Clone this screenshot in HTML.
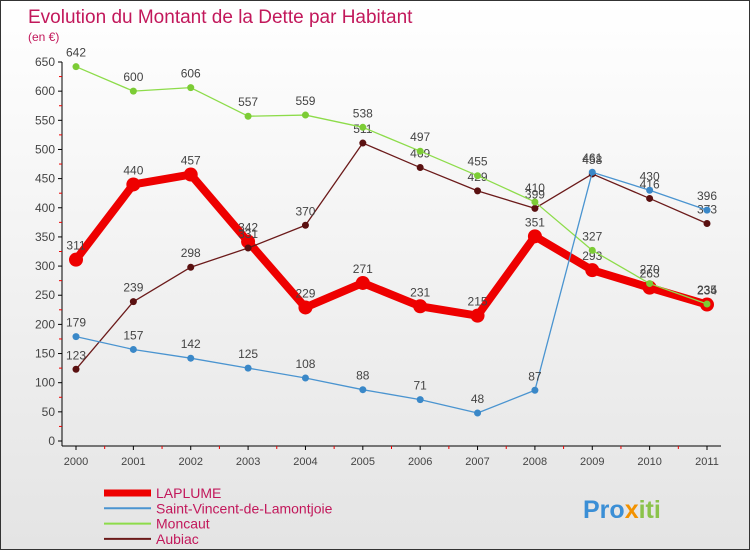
<!DOCTYPE html>
<html><head><meta charset="utf-8"><style>
body{margin:0;}
#c{width:748px;height:548px;border:1px solid #333;background:linear-gradient(#fff,#e4e4e4);position:relative;font-family:"Liberation Sans",sans-serif;}
</style></head><body>
<div id="c">
<svg id="s" width="748" height="548" xmlns="http://www.w3.org/2000/svg">
<text x="27" y="22" font-size="19" fill="#c2185b">Evolution du Montant de la Dette par Habitant</text>
<text x="27" y="40" font-size="12" fill="#c2185b">(en €)</text>
<g id="ax"></g><g id="ser"></g><g id="leg"></g>
<text x="582" y="517" font-size="25" font-weight="bold" fill="#3b8fd6">Pro<tspan fill="#f39200">x</tspan><tspan fill="#8bc34a">iti</tspan></text>
</svg></div>
<script>
const years=[2000,2001,2002,2003,2004,2005,2006,2007,2008,2009,2010,2011];
const laplume=[311,440,457,342,229,271,231,215,351,293,263,234];
const stVincent=[179,157,142,125,108,88,71,48,87,461,430,396];
const moncaut=[642,600,606,557,559,538,497,455,410,327,270,235];
const aubiac=[123,239,298,331,370,511,469,429,399,458,416,373];
const yTicks=[0,50,100,150,200,250,300,350,400,450,500,550,600,650];
const NS="http://www.w3.org/2000/svg";
const X=i=>75+i*(706-75)/11, Y=v=>440-v*(440-61)/650;
function mk(t,a,p){const e=document.createElementNS(NS,t);for(const k in a)e.setAttribute(k,a[k]);p.appendChild(e);return e;}
const ax=document.getElementById('ax');
let l=mk('line',{x1:61,y1:Y(650),x2:61,y2:445,stroke:'#000'},ax);


yTicks.forEach(v=>{mk('line',{x1:57,x2:61,y1:Y(v),y2:Y(v),stroke:'#000'},ax);
 if(v<650)mk('line',{x1:58,x2:61,y1:Y(v+25),y2:Y(v+25),stroke:'#e00'},ax);
 const t=mk('text',{x:54,y:Y(v)+4,'text-anchor':'end','font-size':12,fill:'#444'},ax);t.textContent=v;
 
 });
l=mk('line',{x1:61,y1:445,x2:720,y2:445,stroke:'#000'},ax);


years.forEach((y,i)=>{mk('line',{x1:X(i),x2:X(i),y1:445,y2:449,stroke:'#000'},ax);
 if(i<11)mk('line',{x1:X(i+.5),x2:X(i+.5),y1:445,y2:448,stroke:'#e00'},ax);
 const t=mk('text',{x:X(i),y:464,'text-anchor':'middle','font-size':11,fill:'#444'},ax);t.textContent=y;
 
 });
const ser=document.getElementById('ser');
const S=[[laplume,'#ee0000',8,7,'laplume-line'],[aubiac,'#6b1a1a',1.3,3.5,'aubiac-line'],[moncaut,'#8ddc4a',1.3,3.5,'moncaut-line'],[stVincent,'#4a94d0',1.3,3.5,'saint-vincent-line']];
const ptc={'aubiac-line':'#5a1010','moncaut-line':'#7ccc35','saint-vincent-line':'#3a88c8','laplume-line':'#ee0000'};
S.forEach(([d,c,w,r,n])=>{
 const p=mk('polyline',{points:d.map((v,i)=>X(i)+','+Y(v)).join(' '),fill:'none',stroke:c,'stroke-width':w,'stroke-linejoin':'round'},ser);
 
 
 d.forEach((v,i)=>{const ci=mk('circle',{cx:X(i),cy:Y(v),r:r,fill:ptc[n]},ser);
  
  
  const t=mk('text',{x:X(i),y:Y(v)-10,'text-anchor':'middle','font-size':12,fill:'#444'},ser);t.textContent=v;
  
  });
});
const leg=document.getElementById('leg');
[['LAPLUME','#ee0000',7],['Saint-Vincent-de-Lamontjoie','#4a94d0',2],['Moncaut','#8ddc4a',2],['Aubiac','#6b1a1a',2]].forEach(([n,c,w],i)=>{
 const y=492+i*15.3;
 mk('line',{x1:103,x2:150,y1:y,y2:y,stroke:c,'stroke-width':w},leg);
 const t=mk('text',{x:155,y:y+5,'font-size':14,fill:'#c2185b'},leg);t.textContent=n;
 
 });
</script></body></html>
